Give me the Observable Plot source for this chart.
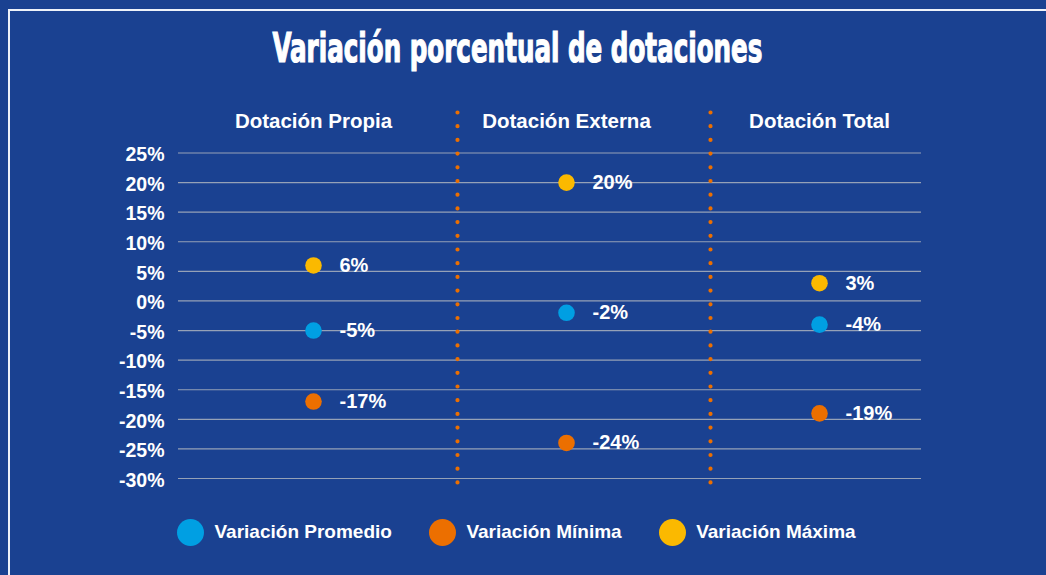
<!DOCTYPE html>
<html>
<head>
<meta charset="utf-8">
<script src="https://cdn.jsdelivr.net/npm/d3@7"></script>
<script src="https://cdn.jsdelivr.net/npm/@observablehq/plot@0.6"></script>
<style>
  html, body { margin:0; padding:0; }
  body { width:1046px; height:575px; overflow:hidden; background:#1a4191; position:relative;
         font-family:"Liberation Sans", Arial, sans-serif; color:#fff; }
  #frame { position:absolute; left:8px; top:9px; width:1038px; height:566px;
           border-top:2px solid #eef2fa; border-left:2px solid #eef2fa; box-sizing:border-box; }
  #title { position:absolute; left:0; top:28px; width:1035px; text-align:center; line-height:40px; height:40px; }
  #title span { display:inline-block; font-family:"DejaVu Sans Condensed","Liberation Sans Narrow",sans-serif;
                font-weight:bold; font-size:40px; transform-origin:50% 50%; white-space:nowrap;
                -webkit-text-stroke:1.2px #fff; }
  #chart { position:absolute; left:0; top:95px; }
  #legend { position:absolute; left:177px; top:518px; height:28px; display:flex; align-items:center; }
  .item { display:flex; align-items:center; font-weight:bold; font-size:19px; white-space:nowrap; }
  .sw { width:27px; height:27px; border-radius:50%; margin-right:10.5px; }
  .item + .item { margin-left:37px; }
</style>
</head>
<body>
<div id="frame"></div>
<div id="title"><span>Variación porcentual de dotaciones</span></div>
<div id="chart"></div>
<div id="legend"></div>
<script>
const categories = ["Dotación Propia", "Dotación Externa", "Dotación Total"];
const seriesNames = ["Variación Promedio", "Variación Mínima", "Variación Máxima"];
const seriesColors = ["#009fe3", "#ec6f00", "#fbb900"];
const promedio = [-5, -2, -4];
const minima = [-17, -24, -19];
const maxima = [6, 20, 3];
const yTicks = [-30, -25, -20, -15, -10, -5, 0, 5, 10, 15, 20, 25];

const seriesValues = [promedio, minima, maxima];
const rows = categories.flatMap((c, i) =>
  seriesNames.map((s, k) => ({cat: c, serie: s, value: seriesValues[k][i]})));

const chart = Plot.plot({
  width: 1046,
  height: 405,
  marginTop: 57.5,
  marginBottom: 22,
  marginLeft: 178,
  marginRight: 125,
  style: {background: "transparent", color: "#fff", fontFamily: "'Liberation Sans', Arial, sans-serif",
          fontWeight: "bold", fontSize: "20px", overflow: "visible"},
  x: {type: "point", domain: categories, range: [312, 819], padding: 0, label: null},
  y: {domain: [-30, 25], label: null},
  color: {domain: seriesNames, range: seriesColors},
  marks: [
    Plot.gridY(yTicks, {stroke: "#95a1b7", strokeOpacity: 1, strokeWidth: 1.2}),
    Plot.ruleX(categories.slice(0, 2), {x: d => d, dx: 144, stroke: "#ec6f00", strokeWidth: 4.2,
      strokeDasharray: "0 13.7", strokeLinecap: "round", insetTop: -40, insetBottom: -11}),
    Plot.axisY(yTicks, {tickSize: 0, tickPadding: 14, tickFormat: d => d + "%", fontSize: 19.5,
      fontWeight: "bold", dy: 2, label: null}),
    Plot.axisX({anchor: "top", tickSize: 0, tickPadding: 25, fontSize: 20.5, fontWeight: "bold", label: null}),
    Plot.dot(rows, {x: "cat", y: "value", fill: "serie", r: 8.3}),
    Plot.text(rows, {x: "cat", y: "value", text: d => d.value + "%", dx: 26, textAnchor: "start",
      fill: "white", fontSize: 20, fontWeight: "bold"})
  ]
});
document.getElementById("chart").appendChild(chart);

const legend = document.getElementById("legend");
seriesNames.forEach((s, k) => {
  const it = document.createElement("div");
  it.className = "item";
  const sw = document.createElement("div");
  sw.className = "sw";
  sw.style.background = seriesColors[k];
  it.appendChild(sw);
  it.appendChild(document.createTextNode(s));
  legend.appendChild(it);
});

const t = document.querySelector("#title span");
const w = t.getBoundingClientRect().width;
t.style.transform = "scaleX(" + (490 / w) + ")";
</script>
</body>
</html>
